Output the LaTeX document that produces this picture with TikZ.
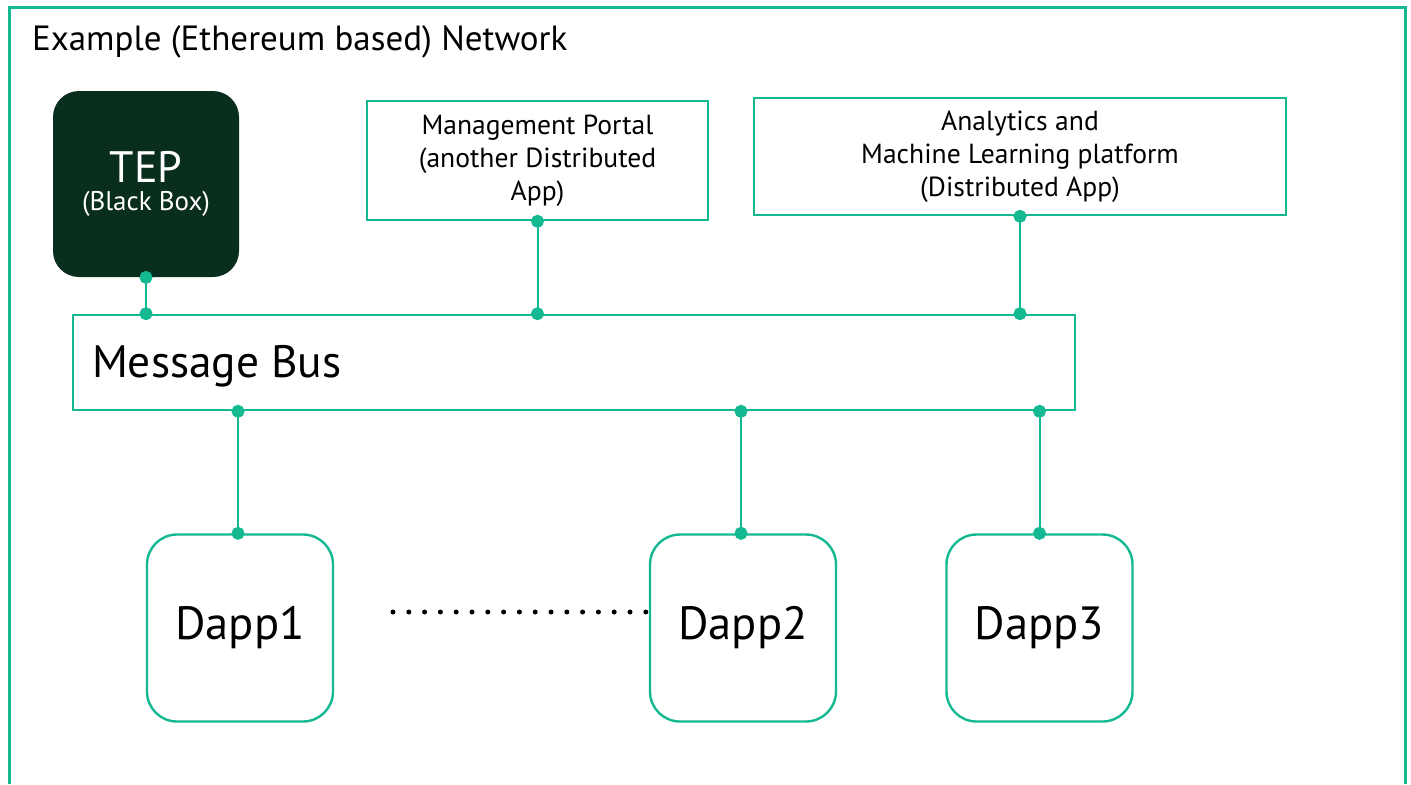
\documentclass[tikz,border=0pt]{standalone}
\usepackage{fontspec}
\setmainfont{PT Sans}
\usepackage{tikz}
\usetikzlibrary{positioning}
\usetikzlibrary{arrows.meta}
\definecolor{busgreen}{RGB}{20,184,145}
\definecolor{tepdark}{RGB}{10,46,30}

\begin{document}
\begin{tikzpicture}[x=0.5pt, y=-0.5pt,
  appbox/.style={draw=busgreen, line width=1.3pt, align=center, font=\fontsize{13.8}{16.5}\selectfont},
  dappbox/.style={draw=busgreen, line width=1.2pt, rounded corners=15pt, minimum width=93pt, minimum height=93.5pt, font=\fontsize{23.3}{26}\selectfont},
  link/.style={busgreen, line width=1pt, {Circle[length=6.5pt]}-{Circle[length=6.5pt]}, shorten <=-3.25pt, shorten >=-3.25pt}]
\useasboundingbox (0,0) rectangle (1411,784);
% outer frame, open at the bottom
\draw[busgreen, line width=1.5pt] (9,784) -- (9,7) -- (1405,7) -- (1405,784);
\node[anchor=west, font=\fontsize{17.5}{20}\selectfont] (title) at (25,42) {Example (Ethereum based) Network};
% TEP black box
\node[fill=tepdark, rounded corners=13pt, minimum width=93pt, minimum height=93pt, text=white, align=center] (tep) at (146,184)
  {{\fontsize{22}{26}\selectfont TEP}\\[2pt]{\fontsize{13.5}{15}\selectfont (Black Box)}};
% distributed apps on top
\node[appbox, minimum width=170.5pt, minimum height=59.5pt] (portal) at (537.5,160.5)
  {Management Portal\\(another Distributed\\App)};
\node[appbox, minimum width=266pt, minimum height=58.5pt] (analytics) at (1020,156.5)
  {Analytics and\\Machine Learning platform\\(Distributed App)};
% message bus
\node[draw=busgreen, line width=1.3pt, minimum width=501pt, minimum height=47.5pt] (bus) at (574,362.5) {};
\node[anchor=west, font=\fontsize{22.7}{26}\selectfont] (buslabel) at (85,366) {Message Bus};
% dapps below
\node[dappbox] (dapp1) at (240,628) {Dapp1};
\node[dappbox] (dapp2) at (743,628) {Dapp2};
\node[dappbox] (dapp3) at (1039.5,628) {Dapp3};
\coordinate (dotsL) at (393,612);
\coordinate (dotsR) at (660,612);
\draw[line width=2.5pt, line cap=round, dash pattern=on 0pt off 7.9pt] (dotsL) -- (dotsR);
% connections to the bus
\draw[link] (tep.south) -- (tep.south |- bus.north);
\draw[link] (portal.south) -- (portal.south |- bus.north);
\draw[link] (analytics.south) -- (analytics.south |- bus.north);
\draw[link] ([xshift=-1pt]dapp1.north |- bus.south) -- ([xshift=-1pt]dapp1.north);
\draw[link] ([xshift=-1pt]dapp2.north |- bus.south) -- ([xshift=-1pt]dapp2.north);
\draw[link] (dapp3.north |- bus.south) -- (dapp3.north);
\end{tikzpicture}
\end{document}
